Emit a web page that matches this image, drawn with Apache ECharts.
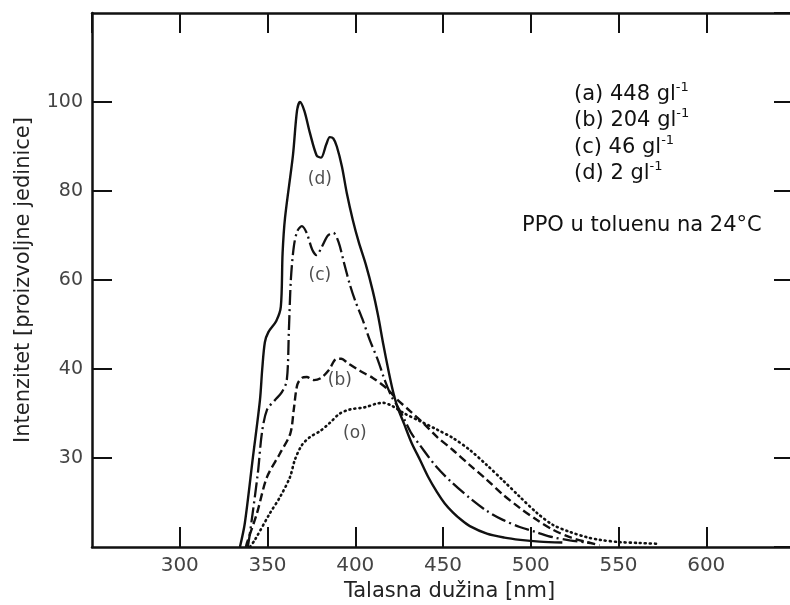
<!DOCTYPE html>
<html>
<head>
<meta charset="utf-8">
<script src="https://cdn.jsdelivr.net/npm/echarts@6/dist/echarts.min.js"></script>
<style>html,body{margin:0;padding:0;background:#fff}#c{width:790px;height:605px}</style>
</head>
<body>
<div id="c"></div>
<script>
// ---- Data (wavelength nm, intensity in plot units; axis 0..120) ----
var dNm  = [334.3,337.1,341.7,345.7,347.0,348.5,350.5,355.0,357.6,358.6,360.0,364.5,366.8,368.5,371.0,374.2,378.0,380.5,383.5,385.5,387.5,389.5,392.4,395.2,398.6,402.0,406.0,410.0,413.0,416.0,419.0,421.5,424.0,428.0,432.0,437.0,441.5,446.5,451.0,455.6,460.7,465.3,475.0,485.0,494.0,505.0,518.0];
var dVal = [0,5.4,20.2,33.0,40.0,46.0,48.3,50.8,54.0,66.0,74.0,88.0,98.0,100.0,98.0,93.0,88.0,87.5,90.5,92.1,91.8,90.0,85.5,79.5,73.5,68.5,63.5,57.5,52.0,45.5,39.5,35.0,31.5,27.5,23.5,19.5,15.8,12.4,9.8,7.8,6.0,4.7,3.0,2.1,1.6,1.2,1.0];

var cNm  = [338.8,340.0,344.5,346.8,349.7,354.2,358.2,361.0,362.2,363.3,365.0,367.0,369.6,372.4,375.5,378.0,381.0,384.4,387.5,390.5,393.5,396.9,400.0,404.0,408.3,412.9,416.8,420.8,423.7,428.2,432.2,436.8,446.5,455.6,465.3,475.0,484.1,493.7,503.4,512.5,522.2,533.6];
var cVal = [0,3.1,16.6,25.6,30.8,33.0,34.8,37.5,48.8,60.0,67.5,71.0,72.1,70.5,66.8,65.6,67.5,70.0,70.6,68.5,64.0,59.0,55.3,51.3,46.5,42.0,37.5,33.7,31.9,28.5,25.4,22.9,17.9,14.3,11.0,8.1,6.1,4.5,3.3,2.2,1.5,0.9];

var bNm  = [337.7,338.3,344.0,349.7,357.1,363.0,365.0,367.0,369.6,372.4,376.5,380.5,385.0,389.5,392.0,395.8,402.6,410.0,418.0,423.7,431.1,439.6,447.0,455.6,465.3,475.0,484.1,493.7,503.4,512.5,522.2,531.9,539.3];
var bVal = [0,0.9,7.6,15.7,21.0,25.5,31.0,36.5,38.0,38.2,37.5,38.0,39.8,42.3,42.3,41.3,39.6,38.0,35.6,33.2,30.6,27.5,24.6,21.8,18.4,15.1,11.8,8.8,6.1,3.9,2.2,1.1,0.4];

var aNm  = [340.0,342.8,351.4,357.1,362.8,365.6,369.6,374.2,379.8,385.5,391.2,396.9,405.5,412.0,416.0,421.4,428.0,436.8,446.5,455.6,465.3,475.0,484.1,493.7,503.4,512.5,522.2,531.9,539.3,550.7,562.1,573.5];
var aVal = [0,1.6,7.6,11.2,15.7,19.6,22.9,24.7,26.0,27.9,30.0,30.9,31.4,32.2,32.4,31.6,30.0,28.3,26.4,24.5,21.8,18.4,15.0,11.3,7.7,5.0,3.4,2.2,1.6,1.1,0.9,0.7];

// curve labels
var curveLabels = ['(d)','(c)','(b)','(o)'];
var curveLabelNm = [379.8,379.8,391.2,399.8];
var curveLabelVal = [82.5,61.1,37.3,25.6];

// tick labels
var xTickLabels = {300:'300',350:'350',400:'400',450:'450',500:'500',550:'550',600:'600'};
var yTickLabels = {20:'30',40:'40',60:'60',80:'80',100:'100'};

var legendLines = [['(a) 448 gl','-1'],['(b) 204 gl','-1'],['(c) 46 gl','-1'],['(d) 2 gl','-1']];
var noteText = 'PPO u toluenu na 24°C';

function pairs(xs, ys){ return xs.map(function(x,i){ return [x, ys[i]]; }); }

var FONT = 'DejaVu Sans';
var INK = '#111';
var chart = echarts.init(document.getElementById('c'), null, {renderer:'canvas'});

var richLines = legendLines.map(function(l){ return '{n|' + l[0] + '}{s|' + l[1] + '}'; }).join('\n');

var option = {
  backgroundColor: '#fff',
  animation: false,
  grid: {left: 92, top: 13, width: 702, height: 534, outerBoundsMode: 'none', containLabel: false},
  xAxis: [{
    type: 'value', min: 250, max: 650, interval: 50, position: 'bottom',
    name: 'Talasna dužina [nm]', nameLocation: 'middle', nameGap: 33,
    nameTextStyle: {fontFamily: FONT, fontSize: 21, color: '#222', padding: [0,0,0,13]},
    axisLine: {show: true, onZero: false, lineStyle: {color: INK, width: 2.5}},
    axisTick: {show: true, inside: true, length: 20, lineStyle: {color: INK, width: 2}},
    axisLabel: {show: true, showMinLabel: false, showMaxLabel: false, margin: 9,
      fontFamily: FONT, fontSize: 20, color: '#444',
      formatter: function(v){ return xTickLabels[v] || ''; }},
    splitLine: {show: false}
  },{
    type: 'value', min: 250, max: 650, interval: 50, position: 'top',
    axisLine: {show: true, onZero: false, lineStyle: {color: INK, width: 2.5}},
    axisTick: {show: true, inside: true, length: 20, lineStyle: {color: INK, width: 2}},
    axisLabel: {show: false}, splitLine: {show: false}
  }],
  yAxis: [{
    type: 'value', min: 0, max: 120, interval: 20, position: 'left',
    name: 'Intenzitet [proizvoljne jedinice]', nameLocation: 'middle', nameGap: 58,
    nameTextStyle: {fontFamily: FONT, fontSize: 21, color: '#222', padding: [0,0,0,0]},
    axisLine: {show: true, onZero: false, lineStyle: {color: INK, width: 2.5}},
    axisTick: {show: true, inside: true, length: 20, lineStyle: {color: INK, width: 2}},
    axisLabel: {show: true, showMinLabel: false, showMaxLabel: false, margin: 9,
      fontFamily: FONT, fontSize: 19, color: '#444',
      formatter: function(v){ return yTickLabels[v] || ''; }},
    splitLine: {show: false}
  },{
    type: 'value', min: 0, max: 120, interval: 20, position: 'right',
    axisLine: {show: true, onZero: false, lineStyle: {color: INK, width: 2.5}},
    axisTick: {show: true, inside: true, length: 20, lineStyle: {color: INK, width: 2}},
    axisLabel: {show: false}, splitLine: {show: false}
  }],
  series: [
    {name: 'd', type: 'line', data: pairs(dNm, dVal), showSymbol: false, smooth: 0.3,
      lineStyle: {color: INK, width: 2.4, type: 'solid'}},
    {name: 'c', type: 'line', data: pairs(cNm, cVal), showSymbol: false, smooth: 0.3,
      lineStyle: {color: INK, width: 2.3, type: [15,4,2,4]}},
    {name: 'b', type: 'line', data: pairs(bNm, bVal), showSymbol: false, smooth: 0.3,
      lineStyle: {color: INK, width: 2.4, type: [8,4]}},
    {name: 'a', type: 'line', data: pairs(aNm, aVal), showSymbol: false, smooth: 0.3,
      lineStyle: {color: INK, width: 2.6, type: [1,4], cap: 'round'}},
    {name: 'labels', type: 'scatter', symbolSize: 0, silent: true,
      data: curveLabelNm.map(function(x,i){ return {value: [x, curveLabelVal[i]], name: curveLabels[i]}; }),
      label: {show: true, position: 'inside', formatter: function(p){ return p.name; },
        fontFamily: FONT, fontSize: 17, color: '#222'}}
  ],
  graphic: [
    {type: 'text', left: 574, top: 81, silent: true,
      style: {text: richLines, fontFamily: FONT, fontSize: 21, fill: '#111', lineHeight: 26.5,
        rich: {
          n: {fontFamily: FONT, fontSize: 21, fill: '#111', lineHeight: 26.5},
          s: {fontFamily: FONT, fontSize: 13, fill: '#111', lineHeight: 26.5, verticalAlign: 'top', padding: [0,0,11,0]}
        }}},
    {type: 'text', left: 522, top: 215, silent: true,
      style: {text: noteText, fontFamily: FONT, fontSize: 21, fill: '#111'}}
  ]
};
chart.setOption(option);
</script>
</body>
</html>
